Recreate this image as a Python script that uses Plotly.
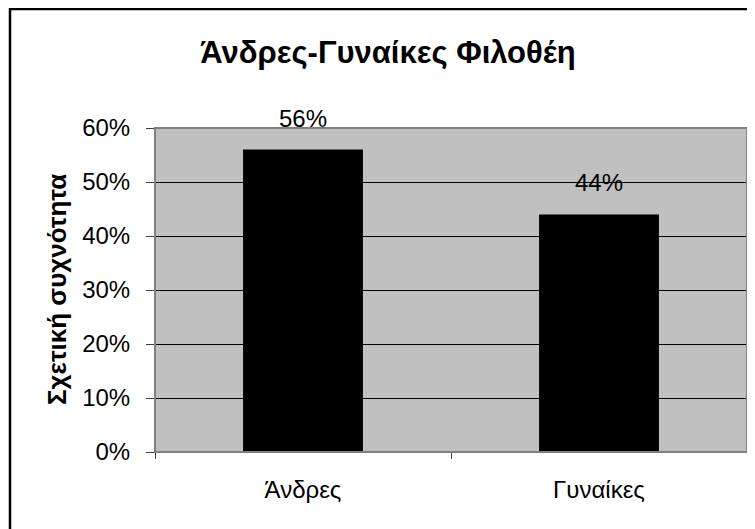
import plotly.graph_objects as go

categories = ["Άνδρες", "Γυναίκες"]
values = [0.56, 0.44]
value_labels = ["56%", "44%"]
title_text = "Άνδρες-Γυναίκες Φιλοθέη"
y_title = "Σχετική συχνότητα"
y_ticks = [0, 0.1, 0.2, 0.3, 0.4, 0.5, 0.6]
y_tick_labels = ["0%", "10%", "20%", "30%", "40%", "50%", "60%"]

W, H = 755, 529
# the page body adds an 8px offset, positions below are in figure coordinates
L, R, T, B = 147, 16, 120, 85
pw, ph = W - L - R, H - T - B

FONT = "Liberation Sans, Arial, sans-serif"

fig = go.Figure()
fig.add_trace(go.Bar(x=categories, y=values, marker=dict(color="black", line=dict(width=0)),
                     width=0.405, showlegend=False, hoverinfo="skip"))

for c, v, t in zip(categories, values, value_labels):
    fig.add_annotation(x=c, y=v, text=t, showarrow=False, yanchor="bottom", yshift=16,
                       font=dict(family=FONT, size=24, color="black"))

fig.add_annotation(xref="paper", yref="paper", x=(49 - L) / pw, y=0.5, text="<b>" + y_title + "</b>",
                   textangle=-90, showarrow=False, xanchor="center", yanchor="middle",
                   font=dict(family=FONT, size=26, color="black"))

# plot area border
fig.add_shape(type="rect", xref="paper", yref="paper", x0=0, x1=1, y0=0, y1=1,
              line=dict(color="#808080", width=2), layer="above")
# outer chart frame (extends beyond the visible picture)
fig.add_shape(type="rect", xref="paper", yref="paper",
              x0=(2 - L) / pw, x1=(780 - L) / pw,
              y0=(H - B - 560) / ph, y1=(H - B - 1) / ph,
              line=dict(color="black", width=2.5), layer="above")

fig.update_layout(
    width=W, height=H,
    margin=dict(l=L, r=R, t=T, b=B),
    paper_bgcolor="white", plot_bgcolor="#C0C0C0",
    title=dict(text="<b>" + title_text + "</b>", x=380 / W, xanchor="center", xref="container",
               y=1 - 44 / H, yanchor="middle", yref="container",
               font=dict(family=FONT, size=31, color="black")),
    font=dict(family=FONT, color="black"),
)
fig.update_xaxes(type="category", tickson="boundaries", ticks="outside", ticklen=6, tickcolor="#404040",
                 showgrid=False, showline=True, linecolor="#404040", linewidth=1,
                 tickfont=dict(family=FONT, size=24, color="black"), ticklabelstandoff=16,
                 range=[-0.5, 1.5], fixedrange=True)
fig.update_yaxes(range=[0, 0.6], tickvals=y_ticks, ticktext=y_tick_labels, ticks="outside", ticklen=8,
                 tickcolor="#404040", showgrid=True, gridcolor="black", gridwidth=1,
                 showline=True, linecolor="#404040", linewidth=1, zeroline=False,
                 tickfont=dict(family=FONT, size=24, color="black"), ticklabelstandoff=11,
                 fixedrange=True)

fig.write_html("out.html")
